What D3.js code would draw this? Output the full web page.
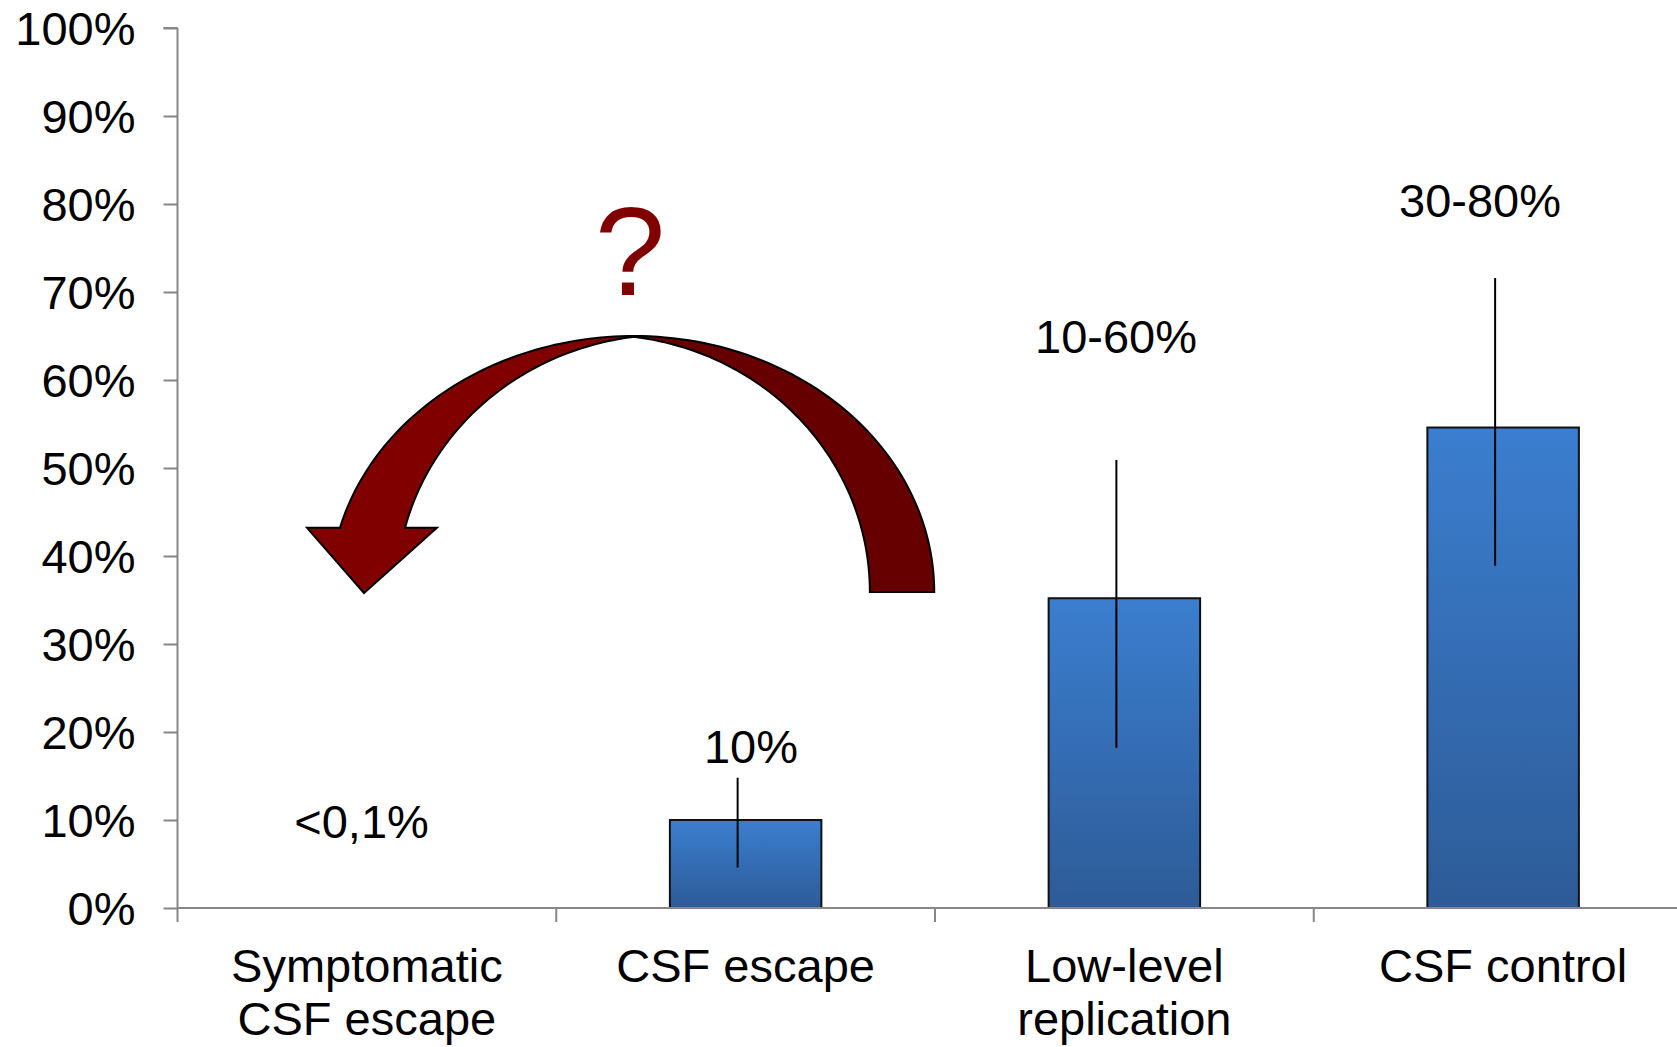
<!DOCTYPE html>
<html>
<head>
<meta charset="utf-8">
<script src="https://cdn.jsdelivr.net/npm/d3@7"></script>
<style>
  html, body { margin: 0; padding: 0; background: #fff; }
  svg { display: block; }
  text { font-family: "Liberation Sans", Arial, sans-serif; }
</style>
</head>
<body>
<svg id="chart" width="1677" height="1047"></svg>
<script>
// Categories (multi-line axis labels)
const categories = [
  ["Symptomatic", "CSF escape"],
  ["CSF escape"],
  ["Low-level", "replication"],
  ["CSF control"]
];
// Bar heights in percent
const values = [0.05, 10, 35.2, 54.6];
// Error-bar ranges in percent (null = no error bar)
const errLow = [null, 4.6, 18.2, 38.9];
const errHigh = [null, 14.8, 50.9, 71.6];
// Value labels above the bars
const valueLabels = ["<0,1%", "10%", "10-60%", "30-80%"];
// Y axis ticks
const yTicks = [0, 10, 20, 30, 40, 50, 60, 70, 80, 90, 100];
const yTickLabels = ["0%", "10%", "20%", "30%", "40%", "50%", "60%", "70%", "80%", "90%", "100%"];

// Layout of the plot area
const W = 1677, H = 1047;
const plot = { left: 177.5, top: 28, bottom: 908, width: 1515 };
const FONT = 47;

const svg = d3.select("#chart");

const x = d3.scaleBand()
  .domain(d3.range(categories.length))
  .range([plot.left, plot.left + plot.width])
  .paddingInner(0.6)
  .paddingOuter(0.3);
// Continuous position in "category units" (0 = left edge of the plot)
const xu = d3.scaleLinear().domain([0, categories.length])
  .range([plot.left, plot.left + plot.width]);
const y = d3.scaleLinear().domain([0, 100]).range([plot.bottom, plot.top]);

// Bar gradient
const defs = svg.append("defs");
const grad = defs.append("linearGradient")
  .attr("id", "barGrad").attr("x1", 0).attr("y1", 0).attr("x2", 0).attr("y2", 1);
grad.append("stop").attr("offset", "0%").attr("stop-color", "#3b7ecf");
grad.append("stop").attr("offset", "100%").attr("stop-color", "#2d5b97");

// Bars
svg.append("g").selectAll("rect")
  .data(values)
  .join("rect")
  .attr("x", (d, i) => x(i))
  .attr("y", d => y(d))
  .attr("width", x.bandwidth())
  .attr("height", d => y(0) - y(d))
  .attr("fill", "url(#barGrad)")
  .attr("stroke", (d, i) => i === 0 ? "none" : "#111")
  .attr("stroke-width", 2);

// Error bars (drawn slightly left of the bar centre)
const errShift = -8;
svg.append("g").selectAll("line")
  .data(values.map((v, i) => ({ lo: errLow[i], hi: errHigh[i], i })).filter(d => d.lo !== null))
  .join("line")
  .attr("x1", d => x(d.i) + x.bandwidth() / 2 + errShift)
  .attr("x2", d => x(d.i) + x.bandwidth() / 2 + errShift)
  .attr("y1", d => y(d.hi))
  .attr("y2", d => y(d.lo))
  .attr("stroke", "#000")
  .attr("stroke-width", 2);

// Axes
const axisColor = "#878787";
const yAxis = d3.axisLeft(y)
  .tickValues(yTicks)
  .tickFormat((d, i) => yTickLabels[i])
  .tickSize(14)
  .tickPadding(28);
const gy = svg.append("g").attr("transform", `translate(${plot.left},0)`).call(yAxis);
gy.select(".domain").attr("stroke", axisColor).attr("stroke-width", 2).attr("d", `M0,${plot.top}H-14M0,${plot.top}V${plot.bottom}`);
gy.selectAll(".tick line").attr("stroke", axisColor).attr("stroke-width", 2);
gy.selectAll(".tick text")
  .attr("font-size", FONT)
  .attr("fill", "#000")
  .attr("font-family", "'Liberation Sans', Arial, sans-serif")
  .attr("dy", "0.36em");

// X axis line and category boundary ticks
const gx = svg.append("g");
gx.append("line")
  .attr("x1", plot.left).attr("x2", W)
  .attr("y1", y(0)).attr("y2", y(0))
  .attr("stroke", axisColor).attr("stroke-width", 2);
gx.selectAll("line.tick")
  .data(d3.range(categories.length + 1))
  .join("line")
  .attr("class", "tick")
  .attr("x1", d => xu(d)).attr("x2", d => xu(d))
  .attr("y1", y(0)).attr("y2", y(0) + 14)
  .attr("stroke", axisColor).attr("stroke-width", 2);

// Category labels
const catG = svg.append("g");
categories.forEach((lines, i) => {
  const t = catG.append("text")
    .attr("x", x(i) + x.bandwidth() / 2)
    .attr("y", 982)
    .attr("text-anchor", "middle")
    .attr("font-size", FONT)
    .attr("fill", "#000");
  lines.forEach((ln, j) => {
    t.append("tspan")
      .attr("x", x(i) + x.bandwidth() / 2)
      .attr("dy", j === 0 ? 0 : 53)
      .text(ln);
  });
});

// Value labels: anchor in category units and percent
const labelAnchor = [
  { u: 0.486, v: 7.9 },
  { u: 1.514, v: 16.5 },
  { u: 2.478, v: 63.1 },
  { u: 3.439, v: 78.5 }
];
svg.append("g").selectAll("text")
  .data(valueLabels)
  .join("text")
  .attr("x", (d, i) => xu(labelAnchor[i].u))
  .attr("y", (d, i) => y(labelAnchor[i].v))
  .attr("text-anchor", "middle")
  .attr("font-size", FONT)
  .attr("fill", "#000")
  .text(d => d);

// Curved arrow from "CSF escape" back to "Symptomatic CSF escape"
const arrow = {
  apexU: 1.2053, apexV: 65.0, apexInnerV: 64.9,
  baseV: 35.9,
  rightOuterU: 1.998, rightInnerU: 1.828, rightInnerCenterU: 1.1155,
  headV: 43.2, leftOuterU: 0.429, leftInnerU: 0.6007, leftInnerCenterU: 1.295,
  wingLeftU: 0.342, wingRightU: 0.685, tipU: 0.4924, tipV: 35.8
};

// Axis-aligned ellipse with a given centre through two points
function ellipseThrough(cx, cy, p1, p2) {
  const a1 = (p1[0] - cx) ** 2, b1 = (p1[1] - cy) ** 2;
  const a2 = (p2[0] - cx) ** 2, b2 = (p2[1] - cy) ** 2;
  const det = a1 * b2 - a2 * b1;
  const A = (b2 - b1) / det, B = (a1 - a2) / det;
  return { cx, cy, rx: 1 / Math.sqrt(A), ry: 1 / Math.sqrt(B) };
}
function arcPoints(e, p1, p2, n = 60) {
  const ang = p => Math.atan2((p[1] - e.cy) / e.ry, (p[0] - e.cx) / e.rx);
  let t1 = ang(p1), t2 = ang(p2);
  if (Math.abs(t2 - t1) > Math.PI) { if (t2 > t1) t1 += 2 * Math.PI; else t2 += 2 * Math.PI; }
  return d3.range(n + 1).map(k => {
    const t = t1 + (t2 - t1) * k / n;
    return [e.cx + e.rx * Math.cos(t), e.cy + e.ry * Math.sin(t)];
  });
}

const apex = [xu(arrow.apexU), y(arrow.apexV)];
const apexIn = [xu(arrow.apexU), y(arrow.apexInnerV)];
const baseY = y(arrow.baseV);
const headY = y(arrow.headV);

// Right (back) half of the ribbon
const rOutEnd = [xu(arrow.rightOuterU), baseY];
const rInEnd = [xu(arrow.rightInnerU), baseY];
const rOuter = { cx: apex[0], cy: baseY, rx: rOutEnd[0] - apex[0], ry: baseY - apex[1] };
const rInner = { cx: xu(arrow.rightInnerCenterU), cy: baseY };
rInner.rx = rInEnd[0] - rInner.cx;
rInner.ry = (baseY - apexIn[1]) / Math.sqrt(1 - ((apexIn[0] - rInner.cx) / rInner.rx) ** 2);
const rightPts = arcPoints(rOuter, apex, rOutEnd)
  .concat([rInEnd])
  .concat(arcPoints(rInner, rInEnd, apexIn));

// Left (front) half with the arrow head
const lOutEnd = [xu(arrow.leftOuterU), headY];
const lInEnd = [xu(arrow.leftInnerU), headY];
const lOuter = ellipseThrough(apex[0], baseY, [apex[0] + 0.001, apex[1]], lOutEnd);
const lInner = ellipseThrough(xu(arrow.leftInnerCenterU), baseY, apexIn, lInEnd);
const leftPts = arcPoints(lOuter, apex, lOutEnd)
  .concat([[xu(arrow.wingLeftU), headY], [xu(arrow.tipU), y(arrow.tipV)], [xu(arrow.wingRightU), headY], lInEnd])
  .concat(arcPoints(lInner, lInEnd, apexIn));

const lineGen = d3.line().curve(d3.curveLinear);
const ag = svg.append("g");
ag.append("path")
  .attr("d", lineGen(rightPts) + "Z")
  .attr("fill", "#660000").attr("stroke", "#000").attr("stroke-width", 2)
  .attr("stroke-linejoin", "miter");
ag.append("path")
  .attr("d", lineGen(leftPts) + "Z")
  .attr("fill", "#800000").attr("stroke", "#000").attr("stroke-width", 2)
  .attr("stroke-linejoin", "miter");

// Question mark above the arrow
svg.append("text")
  .attr("x", xu(arrow.apexU) - 4)
  .attr("y", 295)
  .attr("text-anchor", "middle")
  .attr("font-size", 127)
  .attr("fill", "#800000")
  .text("?");
</script>
</body>
</html>
